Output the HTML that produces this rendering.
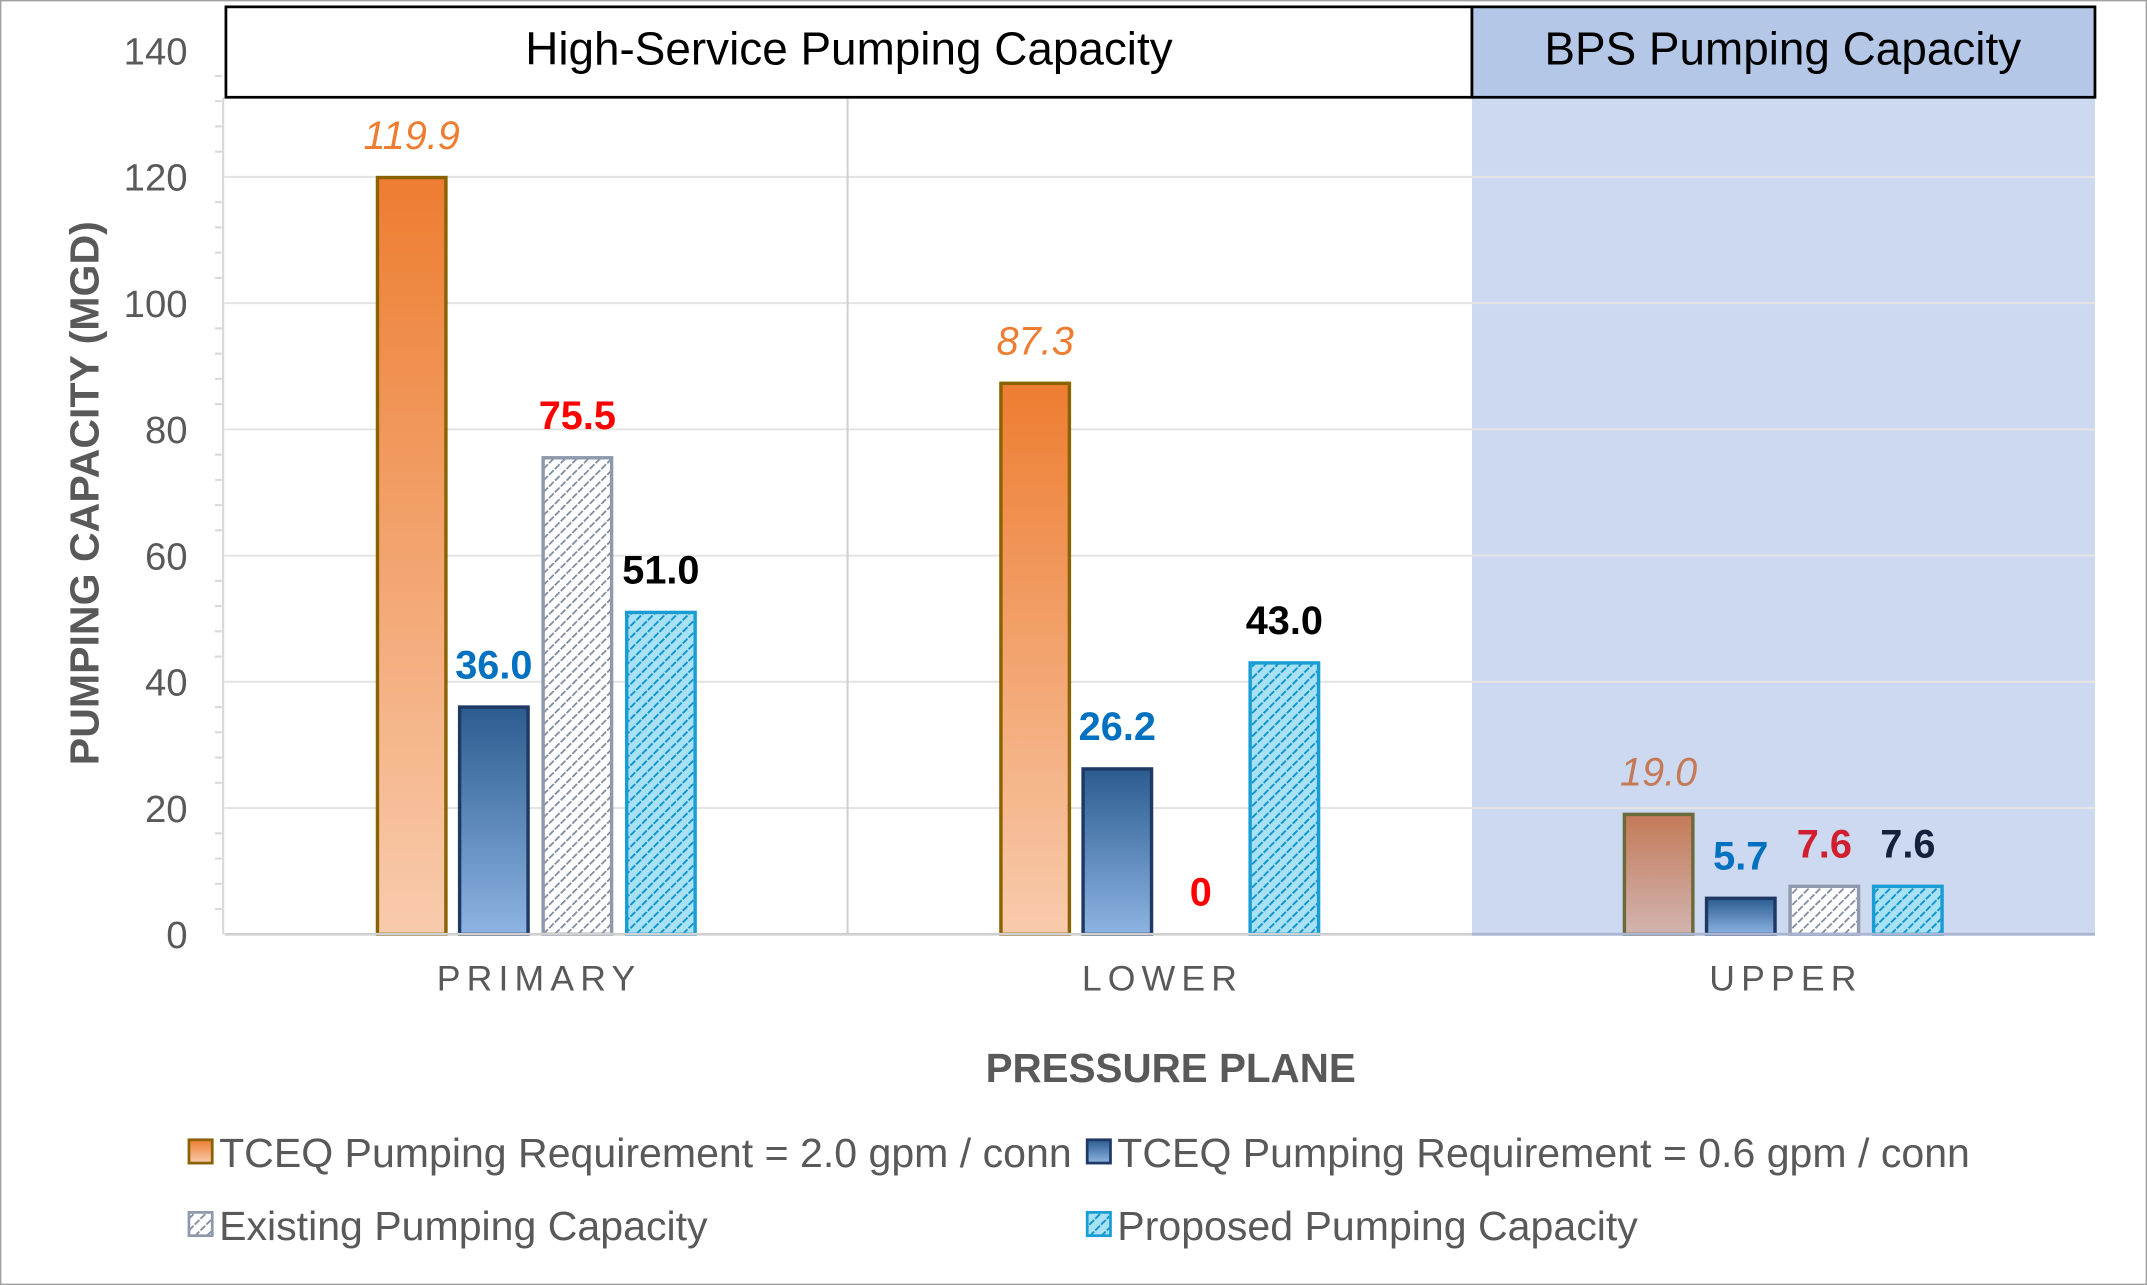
<!DOCTYPE html>
<html><head><meta charset="utf-8"><style>
html,body{margin:0;padding:0;background:#fff;}
svg{display:block;font-family:"Liberation Sans",Arial,sans-serif;}
</style></head><body>
<svg id="chart" width="2147" height="1285" viewBox="0 0 1568 938" preserveAspectRatio="none" xmlns="http://www.w3.org/2000/svg">
<defs>
<linearGradient id="gOr" x1="0" y1="0" x2="0" y2="1"><stop offset="0" stop-color="#ed7d31"/><stop offset="1" stop-color="#f8cbad"/></linearGradient>
<linearGradient id="gOrU" x1="0" y1="0" x2="0" y2="1"><stop offset="0" stop-color="#c47a57"/><stop offset="1" stop-color="#d2b4b0"/></linearGradient>
<linearGradient id="gBl" x1="0" y1="0" x2="0" y2="1"><stop offset="0" stop-color="#2b5c90"/><stop offset="1" stop-color="#8db4e2"/></linearGradient>
<pattern id="pEx" width="6" height="6" patternUnits="userSpaceOnUse" patternTransform="rotate(45)"><rect width="6" height="6" fill="#fff"/><line x1="0" y1="0" x2="0" y2="6" stroke="#7f8ba0" stroke-width="2.6" stroke-dasharray="3.5 1.2"/></pattern>
<pattern id="pPr" width="6" height="6" patternUnits="userSpaceOnUse" patternTransform="rotate(45)"><rect width="6" height="6" fill="#a8e0f4"/><line x1="0" y1="0" x2="0" y2="6" stroke="#0f94cc" stroke-width="2.8" stroke-dasharray="3.5 1.2"/></pattern>
</defs>
<rect x="0.5" y="0.5" width="1567" height="937" fill="#fff" stroke="#a0a0a0"/>
<rect x="1075" y="71" width="455" height="611" fill="#cdd9f0"/>
<g id="grid"></g>
<line x1="619" y1="71" x2="619" y2="682" stroke="#d0d0d0" stroke-width="1.5"/>
<g id="bars"></g>
<line x1="164" y1="682" x2="1530" y2="682" stroke="#d0d0d0" stroke-width="2"/>
<line x1="1075" y1="682" x2="1530" y2="682" stroke="#a9b5d3" stroke-width="2"/>
<rect x="165" y="5" width="910" height="66" fill="#fff" stroke="#000" stroke-width="2"/>
<text x="620" y="47" text-anchor="middle" font-size="33.5" fill="#000">High-Service Pumping Capacity</text>
<rect x="1075" y="5" width="455" height="66" fill="#b4c7e7" stroke="#000" stroke-width="2"/>
<text x="1302" y="47" text-anchor="middle" font-size="33.5" fill="#000">BPS Pumping Capacity</text>
<text transform="translate(72,360) rotate(-90)" text-anchor="middle" font-size="30" font-weight="bold" fill="#595959">PUMPING CAPACITY (MGD)</text>
<text x="855" y="790" text-anchor="middle" font-size="29.5" font-weight="bold" fill="#595959">PRESSURE PLANE</text>
<g font-size="30" fill="#595959">
<rect x="138" y="832" width="17" height="17" fill="url(#gOr)" stroke="#8a6200" stroke-width="2"/>
<text x="160" y="852">TCEQ Pumping Requirement = 2.0 gpm / conn</text>
<rect x="794" y="832" width="17" height="17" fill="url(#gBl)" stroke="#1f3864" stroke-width="2"/>
<text x="816" y="852">TCEQ Pumping Requirement = 0.6 gpm / conn</text>
<rect x="138" y="885" width="17" height="17" fill="url(#pEx)" stroke="#8e9aab" stroke-width="2"/>
<text x="160" y="905">Existing Pumping Capacity</text>
<rect x="794" y="885" width="17" height="17" fill="url(#pPr)" stroke="#1a9dd4" stroke-width="2"/>
<text x="816" y="905">Proposed Pumping Capacity</text>
</g>
</svg>
<script>
const categories = ["PRIMARY", "LOWER", "UPPER"];
const tceq20 = [119.9, 87.3, 19.0];
const tceq06 = [36.0, 26.2, 5.7];
const existing = [75.5, 0, 7.6];
const proposed = [51.0, 43.0, 7.6];
const yTicks = [0, 20, 40, 60, 80, 100, 120, 140];

const NS = "http://www.w3.org/2000/svg";
const x0 = 164, x1 = 1530, y0 = 682, yTop = 37, yMax = 140;
const yS = v => y0 - (v / yMax) * (y0 - yTop);
const gw = (x1 - x0) / categories.length;
const xC = i => x0 + gw * (i + 0.5);
function mk(tag, attrs, parent) { const e = document.createElementNS(NS, tag); for (const k in attrs) e.setAttribute(k, attrs[k]); parent.appendChild(e); return e; }
const grid = document.getElementById('grid');
const svg = document.getElementById('chart');
yTicks.forEach(t => {
  if (t > 0 && t < 140) {
    const l = mk('line', {x1: x0, x2: x1, y1: yS(t), y2: yS(t), stroke: '#e4e4e4', 'stroke-width': 1.5}, grid);
    
    
  }
  const tx = mk('text', {x: 137, y: yS(t) + 10, 'text-anchor': 'end', 'font-size': 28, fill: '#595959'}, svg);
  tx.textContent = t;
  
  
});
for (let t = 0; t < 140; t += 4) {
  if (t % 20 === 0) continue;
  const m = mk('line', {x1: 157, x2: 162, y1: yS(t), y2: yS(t), stroke: '#d8d8d8', 'stroke-width': 1.5}, grid);
  
  
}
mk('line', {x1: 163, x2: 163, y1: 71, y2: y0, stroke: '#d8d8d8', 'stroke-width': 1.5}, grid);

const bars = document.getElementById('bars');
const series = [
  {vals: tceq20, fill: 'url(#gOr)', stroke: '#8a6200', off: -116, lab: '#ed7d31', italic: true, name: 'tceq-2'},
  {vals: tceq06, fill: 'url(#gBl)', stroke: '#1f3864', off: -56, lab: '#0070c0', name: 'tceq-06'},
  {vals: existing, fill: 'url(#pEx)', stroke: '#8e9aab', off: 5, lab: '#ff0000', name: 'existing'},
  {vals: proposed, fill: 'url(#pPr)', stroke: '#1a9dd4', off: 66, lab: '#000', name: 'proposed'}
];
const bw = 50;
series.forEach((s, si) => {
  s.vals.forEach((v, i) => {
    const x = xC(i) + s.off;
    let fill = s.fill, stroke = s.stroke, lab = s.lab;
    if (i === 2 && si === 0) { fill = 'url(#gOrU)'; stroke = '#6b6a3a'; lab = '#c47a57'; }
    if (i === 2 && si === 2) lab = '#d0202f';
    if (i === 2 && si === 3) lab = '#13213d';
    if (v > 0) {
      const r = mk('rect', {x: x, y: yS(v), width: bw, height: y0 - yS(v), fill: fill, stroke: stroke, 'stroke-width': 2.5}, bars);
      
      
    }
    const t = mk('text', {x: x + bw / 2, y: yS(v) - 21, 'text-anchor': 'middle', 'font-size': 29, fill: lab, 'font-weight': s.italic ? 'normal' : 'bold', 'font-style': s.italic ? 'italic' : 'normal'}, bars);
    t.textContent = (v === 0) ? '0' : v.toFixed(1);
    
    
  });
});
categories.forEach((c, i) => {
  const t = mk('text', {x: xC(i) + 2, y: 723, 'text-anchor': 'middle', 'font-size': 26, fill: '#595959', 'letter-spacing': 4.5}, svg);
  t.textContent = c;
  
  
});
</script>
</body></html>
